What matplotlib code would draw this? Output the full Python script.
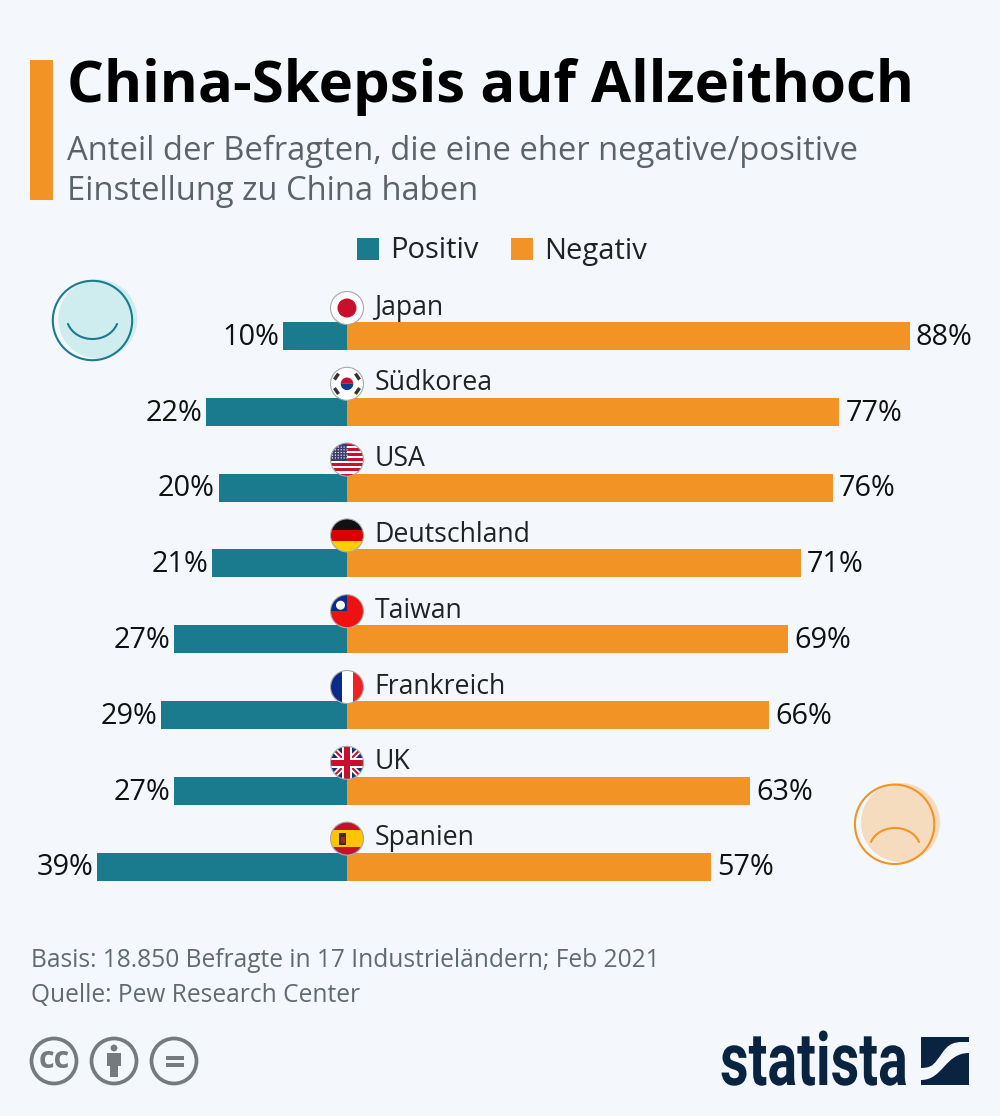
"""China-Skepsis chart, rebuilt with matplotlib."""

import math

import matplotlib

matplotlib.use("Agg")
import matplotlib.pyplot as plt
from matplotlib.patches import Circle, PathPatch, Polygon, Rectangle, Wedge
from matplotlib.path import Path
from matplotlib.patheffects import AbstractPathEffect
from matplotlib.transforms import Affine2D

countries = ["Japan", "Südkorea", "USA", "Deutschland", "Taiwan", "Frankreich", "UK", "Spanien"]
positive = [10, 22, 20, 21, 27, 29, 27, 39]
negative = [88, 77, 76, 71, 69, 66, 63, 57]

title = "China-Skepsis auf Allzeithoch"
subtitle = ["Anteil der Befragten, die eine eher negative/positive", "Einstellung zu China haben"]
footer = ["Basis: 18.850 Befragte in 17 Industrieländern; Feb 2021", "Quelle: Pew Research Center"]

BG = "#f4f8fc"
TEAL = "#1a7b8e"
ORANGE = "#f29325"
NAVY = "#0a2340"
GREY = "#757b7c"

W, H = 1000, 1116
ZERO_X = 346.5
PX_PER_PCT = 6.4
FIRST_Y = 336
STEP_Y = 75.8
FLAG_R = 16.5

plt.rcParams["font.family"] = ["Open Sans", "DejaVu Sans"]

fig = plt.figure(figsize=(W / 100, H / 100), dpi=100, facecolor=BG)

# bars live in their own axes, scaled so the % values land on the right pixels
ax = fig.add_axes([0, 0, 1, 1])
ax.set_xlim(-ZERO_X / PX_PER_PCT, (W - ZERO_X) / PX_PER_PCT)
ax.set_ylim((H - FIRST_Y) / STEP_Y, -FIRST_Y / STEP_Y)
ax.axis("off")

rows = range(len(countries))
bar_h = 28 / STEP_Y
ax.barh(rows, [-v for v in positive], height=bar_h, color=TEAL)
ax.barh(rows, negative, height=bar_h, color=ORANGE)
for i in rows:
    ax.annotate(f"{positive[i]}%", (-positive[i], i), xytext=(-2.5, -1), textcoords="offset points",
                ha="right", va="center", fontsize=20.8, color="#111111")
    ax.annotate(f"{negative[i]}%", (negative[i], i), xytext=(4.5, -1), textcoords="offset points",
                ha="left", va="center", fontsize=20.8, color="#111111")

# everything else is positioned in pixels
px = fig.add_axes([0, 0, 1, 1])
px.set_xlim(0, W)
px.set_ylim(H, 0)
px.axis("off")
px.patch.set_alpha(0)


class StretchY(AbstractPathEffect):
    """Stretch text vertically around a baseline, there is no condensed bold font here."""

    def __init__(self, factor, base_y):
        super().__init__()
        self.factor = factor
        self.base_y = base_y

    def draw_path(self, renderer, gc, tpath, affine, rgbFace=None):
        stretch = Affine2D().translate(0, -self.base_y).scale(1, self.factor).translate(0, self.base_y)
        renderer.draw_path(gc, tpath, affine + stretch, rgbFace)


def rect(x0, y0, x1, y1, color, clip=None, zorder=3):
    r = Rectangle((x0, y0), x1 - x0, y1 - y0, facecolor=color, edgecolor="none", zorder=zorder)
    px.add_patch(r)
    if clip is not None:
        r.set_clip_path(clip)
    return r


def poly(points, color, clip=None, zorder=3):
    p = Polygon(points, closed=True, facecolor=color, edgecolor="none", zorder=zorder)
    px.add_patch(p)
    if clip is not None:
        p.set_clip_path(clip)
    return p


def flag_disc(cx, cy):
    disc = Circle((cx, cy), FLAG_R, facecolor="white", edgecolor="none", zorder=2.5)
    px.add_patch(disc)
    return disc


def flag_rim(cx, cy):
    px.add_patch(Circle((cx, cy), FLAG_R, facecolor="none", edgecolor="#a9a9a9", lw=0.8, zorder=5))


def flag_japan(cx, cy, d):
    px.add_patch(Circle((cx, cy), 9.5, facecolor="#c8102e", edgecolor="none", zorder=3))


def flag_korea(cx, cy, d):
    px.add_patch(Wedge((cx, cy), 6.3, 180, 360, facecolor="#c8102e", edgecolor="none", zorder=3))
    px.add_patch(Wedge((cx, cy), 6.3, 0, 180, facecolor="#0b3d91", edgecolor="none", zorder=3))
    for sx, sy in [(-1, -1), (1, -1), (-1, 1), (1, 1)]:
        dx, dy = sx * 10.5, sy * 7.2
        norm = math.hypot(dx, dy)
        ux, uy = dx / norm, dy / norm
        x, y = cx + dx, cy + dy
        # short bar lying across the radial direction
        half_len, half_wid = 3.6, 1.7
        poly([(x - uy * half_len - ux * half_wid, y + ux * half_len - uy * half_wid),
              (x + uy * half_len - ux * half_wid, y - ux * half_len - uy * half_wid),
              (x + uy * half_len + ux * half_wid, y - ux * half_len + uy * half_wid),
              (x - uy * half_len + ux * half_wid, y + ux * half_len + uy * half_wid)], "#333333", d)


def flag_usa(cx, cy, d):
    stripe = 2 * FLAG_R / 13
    top = cy - FLAG_R
    for k in range(0, 13, 2):
        rect(cx - FLAG_R, top + k * stripe, cx + FLAG_R, top + (k + 1) * stripe, "#c8102e", d)
    rect(cx - FLAG_R, top, cx, top + 7 * stripe, "#3c3b6e", d, zorder=4)
    for row in range(5):
        for col in range(6):
            star = Circle((cx - FLAG_R + 2 + col * 2.9, top + 4 + row * 2.7), 0.65,
                          facecolor="white", edgecolor="none", zorder=4.5)
            px.add_patch(star)
            star.set_clip_path(d)


def flag_germany(cx, cy, d):
    third = 2 * FLAG_R / 3
    top = cy - FLAG_R
    rect(cx - FLAG_R, top, cx + FLAG_R, top + third, "#111111", d)
    rect(cx - FLAG_R, top + third, cx + FLAG_R, top + 2 * third, "#dd0000", d)
    rect(cx - FLAG_R, top + 2 * third, cx + FLAG_R, top + 3 * third, "#ffce00", d)


def flag_taiwan(cx, cy, d):
    rect(cx - FLAG_R, cy - FLAG_R, cx + FLAG_R, cy + FLAG_R, "#ee1111", d)
    rect(cx - FLAG_R, cy - FLAG_R, cx, cy, "#0c2a8c", d, zorder=4)
    px.add_patch(Circle((cx - 6.5, cy - 6), 4.5, facecolor="white", edgecolor="none", zorder=4.5))


def flag_france(cx, cy, d):
    third = 2 * FLAG_R / 3
    left = cx - FLAG_R
    rect(left, cy - FLAG_R, left + third, cy + FLAG_R, "#0c2a8c", d)
    rect(left + 2 * third, cy - FLAG_R, left + 3 * third, cy + FLAG_R, "#ee2222", d)


def flag_uk(cx, cy, d):
    r = FLAG_R
    rect(cx - r, cy - r, cx + r, cy + r, "#1a2c6b", d)
    for s in (1, -1):
        poly([(cx - r, cy - s * (r - 4)), (cx - r + 4, cy - s * r), (cx + r, cy + s * (r - 4)),
              (cx + r - 4, cy + s * r)], "white", d)
        poly([(cx - r, cy - s * (r - 1.5)), (cx - r + 1.5, cy - s * r), (cx + r, cy + s * (r - 1.5)),
              (cx + r - 1.5, cy + s * r)], "#c8102e", d, zorder=3.2)
    rect(cx - 5, cy - r, cx + 5, cy + r, "white", d, zorder=3.4)
    rect(cx - r, cy - 5, cx + r, cy + 5, "white", d, zorder=3.4)
    rect(cx - 3, cy - r, cx + 3, cy + r, "#c8102e", d, zorder=3.6)
    rect(cx - r, cy - 3, cx + r, cy + 3, "#c8102e", d, zorder=3.6)


def flag_spain(cx, cy, d):
    r = FLAG_R
    rect(cx - r, cy - r, cx + r, cy + r, "#c4122e", d)
    rect(cx - r, cy - r / 2, cx + r, cy + r / 2, "#ffc400", d, zorder=3.2)
    rect(cx - 8, cy - 6, cx - 1, cy + 6, "#3a2c18", d, zorder=3.4)
    rect(cx - 6.5, cy - 2, cx - 2.5, cy + 4, "#9a2a20", d, zorder=3.6)


flag_painters = [flag_japan, flag_korea, flag_usa, flag_germany, flag_taiwan, flag_france, flag_uk, flag_spain]

for i, name in enumerate(countries):
    bar_y = FIRST_Y + i * STEP_Y
    cx, cy = 347, bar_y - 28
    disc = flag_disc(cx, cy)
    flag_painters[i](cx, cy, disc)
    flag_rim(cx, cy)
    px.text(374.5, bar_y - 28.5, name, ha="left", va="center", fontsize=19.2, color="#222222", zorder=6)

# header
rect(30, 60, 53, 200, ORANGE)
px.text(67, 87.5, title, ha="left", va="center", fontsize=41.9, fontweight="bold", color="black")
px.text(67, 151, subtitle[0], ha="left", va="center", fontsize=23.6, color="#5a6468")
px.text(67, 191, subtitle[1], ha="left", va="center", fontsize=23.6, color="#5a6468")

# legend
rect(357, 238, 379, 260, TEAL)
px.text(390.5, 251, "Positiv", ha="left", va="center", fontsize=21, color="#222222")
rect(511, 238, 533, 260, ORANGE)
px.text(544.5, 251, "Negativ", ha="left", va="center", fontsize=21, color="#222222")


def curve(x0, x1, y_end, sag, color):
    # cubic bezier, close enough to the circular arc of the smile
    y_ctrl = y_end + sag / 0.75
    inset = (x1 - x0) * 0.17
    path = Path([(x0, y_end), (x0 + inset, y_ctrl), (x1 - inset, y_ctrl), (x1, y_end)],
                [Path.MOVETO, Path.CURVE4, Path.CURVE4, Path.CURVE4])
    px.add_patch(PathPatch(path, facecolor="none", edgecolor=color, lw=1.5, capstyle="round", zorder=4))


# smileys
px.add_patch(Circle((97.8, 319), 39.5, facecolor="#cfecee", edgecolor="none", zorder=2))
px.add_patch(Circle((92.5, 320.5), 39.7, facecolor="none", edgecolor=TEAL, lw=1.5, zorder=3))
curve(68, 117, 324, 15, TEAL)
px.add_patch(Circle((900.5, 822.5), 39.5, facecolor="#f6dcbf", edgecolor="none", zorder=2))
px.add_patch(Circle((894.6, 824.3), 39.7, facecolor="none", edgecolor=ORANGE, lw=1.5, zorder=3))
curve(871, 919, 842, -14, ORANGE)

# footer
px.text(31, 960.5, footer[0], ha="left", va="center", fontsize=17.65, color="#5f6b70")
px.text(31, 995.5, footer[1], ha="left", va="center", fontsize=17.65, color="#5f6b70")

# cc icons
for cx in (54, 114, 174):
    px.add_patch(Circle((cx, 1061), 22.5, facecolor="none", edgecolor=GREY, lw=2.7))
px.text(54, 1059.5, "cc", ha="center", va="center", fontsize=22, fontweight="bold", color=GREY)
px.add_patch(Circle((114, 1048), 3.4, facecolor=GREY, edgecolor="none"))
rect(107, 1053, 121, 1066, GREY)
rect(110, 1066, 118, 1077, GREY)
rect(166, 1056, 184, 1059.5, GREY)
rect(166, 1063, 184, 1067, GREY)

# statista logo
logo = px.text(720, 1085, "statista", ha="left", va="baseline", fontsize=40, fontweight="bold",
               family=["Roboto", "DejaVu Sans"], color=NAVY)
logo.set_path_effects([StretchY(1.33, H - 1085)])

codes_top = [Path.MOVETO, Path.LINETO, Path.LINETO, Path.LINETO, Path.CURVE4, Path.CURVE4, Path.CURVE4,
             Path.CURVE4, Path.CURVE4, Path.CURVE4, Path.LINETO, Path.CLOSEPOLY]
top_piece = [(921, 1037), (969, 1037), (969, 1042), (962, 1042), (946, 1042), (944, 1052), (937, 1060),
             (933, 1066), (929, 1068), (921, 1068), (921, 1068), (921, 1037)]
px.add_patch(PathPatch(Path(top_piece, codes_top), facecolor=NAVY, edgecolor="none"))
codes_bot = [Path.MOVETO, Path.LINETO, Path.LINETO, Path.LINETO, Path.CURVE4, Path.CURVE4, Path.CURVE4, Path.CLOSEPOLY]
bot_piece = [(969, 1053), (969, 1085), (921, 1085), (921, 1080), (943, 1080), (945, 1053), (969, 1053), (969, 1053)]
px.add_patch(PathPatch(Path(bot_piece, codes_bot), facecolor=NAVY, edgecolor="none"))

fig.savefig("out.png", dpi=100, facecolor=BG)
